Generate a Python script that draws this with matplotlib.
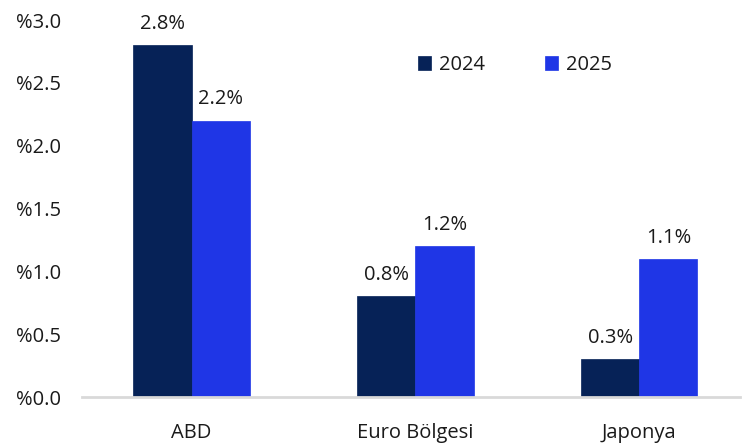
import matplotlib
matplotlib.use("Agg")
import matplotlib.pyplot as plt
import numpy as np

regions = ["ABD", "Euro Bölgesi", "Japonya"]
years = ["2024", "2025"]
vals_2024 = [2.8, 0.8, 0.3]
vals_2025 = [2.2, 1.2, 1.1]
colors = ["#062257", "#1f36e6"]
yticks = [0.0, 0.5, 1.0, 1.5, 2.0, 2.5, 3.0]

plt.rcParams["font.family"] = ["Open Sans", "DejaVu Sans"]
FS = 14.5
TXT = "#1a1a1a"

fig = plt.figure(figsize=(7.44, 4.44), dpi=100)
ax = fig.add_axes([82 / 744, 47 / 444, 658 / 744, 377 / 444])

x = np.arange(len(regions))
w = 0.26
for i, (vals, c, lab) in enumerate(zip([vals_2024, vals_2025], colors, years)):
    xs = x + (i - 0.5) * w
    ax.bar(xs, vals, width=w, color=c, label=lab, edgecolor=c, linewidth=0.5)
    for xi, v in zip(xs, vals):
        ax.annotate(f"{v:.1f}%", (xi, v), xytext=(0, 8), textcoords="offset points",
                    ha="center", va="bottom", fontsize=FS, color=TXT)

ax.set_xlim(-0.49, 2.45)
ax.set_ylim(0, 3.0)
ax.set_yticks(yticks)
ax.set_yticklabels([f"%{t:.1f}" for t in yticks], fontsize=FS, color=TXT)
ax.set_xticks(x)
ax.set_xticklabels(regions, fontsize=FS, color=TXT)
ax.tick_params(axis="y", length=0, pad=15)
ax.tick_params(axis="x", length=0, pad=19)

for s in ["top", "right", "left"]:
    ax.spines[s].set_visible(False)
ax.spines["bottom"].set_color("#d9d9d9")
ax.spines["bottom"].set_linewidth(2)

leg = ax.legend(loc="center", bbox_to_anchor=(0.658, 0.88), ncol=2, frameon=False,
                fontsize=FS, handlelength=0.65, handleheight=0.65, columnspacing=3.0,
                handletextpad=0.4)
for t in leg.get_texts():
    t.set_color(TXT)

fig.savefig("out.png", dpi=100)
